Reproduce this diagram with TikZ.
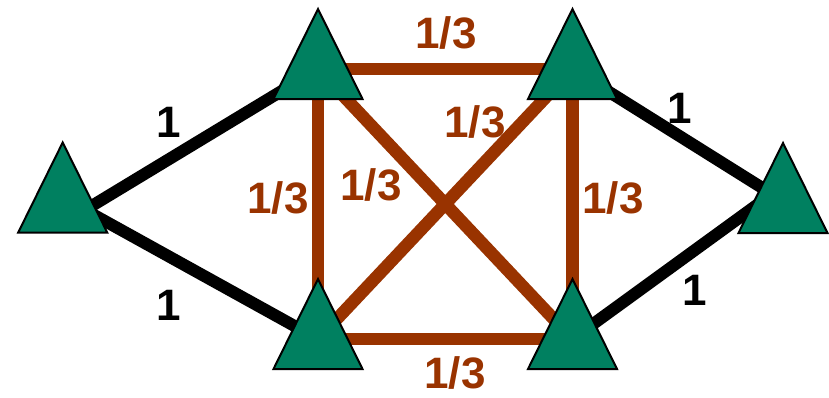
\documentclass[tikz,border=0pt]{standalone}
\usepackage{fontspec}
\setmainfont{Liberation Sans}
\definecolor{tgreen}{RGB}{0,128,96}
\definecolor{tbrown}{RGB}{153,51,0}
\begin{document}
\begin{tikzpicture}[x=1pt,y=-1pt,
  blk/.style={line width=12pt,black},
  brn/.style={line width=12.5pt,tbrown},
  trist/.style={fill=tgreen,draw=black,line width=2pt,line join=miter},
  lab/.style={inner sep=0pt,font=\fontsize{44}{44}\selectfont\bfseries},
  tri/.pic={\draw[trist] (0,-60) -- (44.5,30) -- (-44.5,30) -- cycle;}]
\useasboundingbox (0,0) rectangle (829,397);
% positions (triangle centroids)
\coordinate (L)  at (62.7,202.5);
\coordinate (TL) at (318,69);
\coordinate (TR) at (572.5,69);
\coordinate (BL) at (318,339);
\coordinate (BR) at (572.5,339);
\coordinate (R)  at (783,203);
% connector ends inside the side triangles
\coordinate (Lc) at (85,210);
\coordinate (Rc) at (772,194);
% connectors
\draw[blk] (Lc) -- (TL);
\draw[blk] (Lc) -- (BL);
\draw[blk] (Rc) -- (TR);
\draw[blk] (Rc) -- (BR);
\draw[brn] (TL) -- (TR);
\draw[brn] (BL) -- (BR);
\draw[brn] (TL) -- (BL);
\draw[brn] (TR) -- (BR);
\draw[brn] (TL) -- (BR);
\draw[brn] (BL) -- (TR);
% triangles
\pic at (L) {tri};
\pic at (TL) {tri};
\pic at (TR) {tri};
\pic at (BL) {tri};
\pic at (BR) {tri};
\pic at (R) {tri};
% labels
\node[lab] (l1) at (169,122) {1};
\node[lab] (l2) at (169,305) {1};
\node[lab] (l3) at (680,108) {1};
\node[lab] (l4) at (695,290) {1};
\node[lab,tbrown] (l5) at (446,33) {1/3};
\node[lab,tbrown] (l6) at (455,373) {1/3};
\node[lab,tbrown] (l7) at (278,198) {1/3};
\node[lab,tbrown] (l8) at (613,198) {1/3};
\node[lab,tbrown] (l9) at (475,122) {1/3};
\node[lab,tbrown] (l10) at (371,185) {1/3};
\end{tikzpicture}
\end{document}
